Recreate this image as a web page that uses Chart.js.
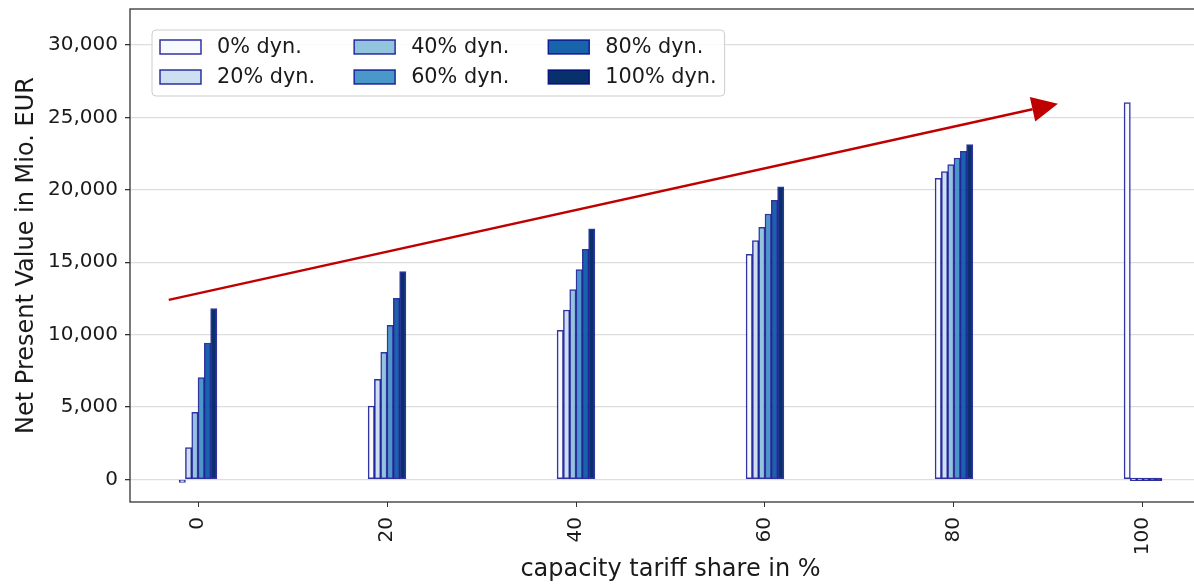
<!DOCTYPE html>
<html>
<head>
<meta charset="utf-8">
<script src="https://cdn.jsdelivr.net/npm/chart.js@4"></script>
<style>
  html, body { margin: 0; padding: 0; background: #fff; overflow: hidden; }
  #wrap { width: 1194px; height: 584px; overflow: hidden; }
</style>
</head>
<body>
<div id="wrap"><canvas id="npvChart" width="1212" height="584"></canvas></div>
<script>
// capacity tariff share (x groups) and the dynamic share of each bar
const shares = [0, 20, 40, 60, 80, 100];
const dynLabels = ['0% dyn.', '20% dyn.', '40% dyn.', '60% dyn.', '80% dyn.', '100% dyn.'];

// net present value in Mio. EUR, one array per dynamic share
const npvDyn0   = [-200, 5070, 10300, 15550, 20800, 26030];
const npvDyn20  = [2200, 6910, 11700, 16490, 21260, 0];
const npvDyn40  = [4630, 8780, 13110, 17410, 21750, 0];
const npvDyn60  = [7030, 10640, 14490, 18330, 22200, 0];
const npvDyn80  = [9420, 12510, 15890, 19280, 22660, 0];
const npvDyn100 = [11800, 14350, 17300, 20200, 23130, 0];

const yTicks = [0, 5000, 10000, 15000, 20000, 25000, 30000];

// red trend arrow, in data units
const arrowFrom = [-3.1, 12400];
const arrowTo = [91.0, 25950];

const fills = ['#f7fbff', '#cde0f1', '#93c4de', '#4a98c9', '#1764ab', '#08306b'];
const edge = 'rgba(0, 0, 139, 0.8)';
const series = [npvDyn0, npvDyn20, npvDyn40, npvDyn60, npvDyn80, npvDyn100];
const groupWidth = 4;

Chart.defaults.font.family = 'DejaVu Sans';
Chart.defaults.font.size = 20;
Chart.defaults.color = '#1a1a1a';

const datasets = series.map((vals, k) => {
  const off = (k - 2.5) * groupWidth / series.length;
  return {
    label: dynLabels[k],
    data: shares.map((s, i) => ({ x: s + off, y: vals[i] })),
    backgroundColor: fills[k],
    borderColor: edge,
    borderWidth: 1.5,
    borderSkipped: false,
    minBarLength: 2.5,
    categoryPercentage: 1,
    barPercentage: 1,
    grouped: false
  };
});

const framePlugin = {
  id: 'frame',
  afterDatasetsDraw(chart) {
    const { ctx, scales } = chart;
    // arrow
    const x1 = scales.x.getPixelForValue(arrowFrom[0]);
    const y1 = scales.y.getPixelForValue(arrowFrom[1]);
    const x2 = scales.x.getPixelForValue(arrowTo[0]);
    const y2 = scales.y.getPixelForValue(arrowTo[1]);
    const ang = Math.atan2(y2 - y1, x2 - x1);
    const headLen = 26, headHalf = 12.5;
    const bx = x2 - headLen * Math.cos(ang), by = y2 - headLen * Math.sin(ang);
    ctx.save();
    ctx.strokeStyle = '#c00000';
    ctx.fillStyle = '#c00000';
    ctx.lineWidth = 2.5;
    ctx.beginPath();
    ctx.moveTo(x1, y1);
    ctx.lineTo(bx, by);
    ctx.stroke();
    ctx.beginPath();
    ctx.moveTo(x2, y2);
    ctx.lineTo(bx + headHalf * Math.sin(ang), by - headHalf * Math.cos(ang));
    ctx.lineTo(bx - headHalf * Math.sin(ang), by + headHalf * Math.cos(ang));
    ctx.closePath();
    ctx.fill();
    ctx.restore();
  },
  afterDraw(chart) {
    const { ctx, chartArea: a } = chart;
    ctx.save();
    // axes box
    ctx.strokeStyle = '#333';
    ctx.lineWidth = 1.3;
    ctx.strokeRect(a.left, a.top, a.right - a.left, a.bottom - a.top);

    // legend, column-major like matplotlib ncol=3
    ctx.font = '20.8px "DejaVu Sans"';
    const ds = chart.data.datasets;
    const rows = 2, cols = Math.ceil(ds.length / rows);
    const pad = 8, handleW = 41, handleH = 14, textPad = 16, colGap = 39, rowH = 30;
    const colW = [];
    for (let c = 0; c < cols; c++) {
      let w = 0;
      for (let r = 0; r < rows; r++) {
        const d = ds[c * rows + r];
        if (d) w = Math.max(w, ctx.measureText(d.label).width);
      }
      colW.push(handleW + textPad + w);
    }
    const boxX = a.left + 22, boxY = a.top + 21;
    const boxW = pad * 2 + colW.reduce((s, w) => s + w, 0) + colGap * (cols - 1);
    const boxH = rows * rowH + 6;
    ctx.fillStyle = 'rgba(255,255,255,0.85)';
    ctx.strokeStyle = '#cccccc';
    ctx.lineWidth = 1;
    ctx.beginPath();
    ctx.roundRect(boxX, boxY, boxW, boxH, 4);
    ctx.fill();
    ctx.stroke();
    let cx = boxX + pad;
    for (let c = 0; c < cols; c++) {
      for (let r = 0; r < rows; r++) {
        const d = ds[c * rows + r];
        if (!d) continue;
        const cy = boxY + 17 + r * rowH;
        ctx.fillStyle = d.backgroundColor;
        ctx.fillRect(cx, cy - handleH / 2, handleW, handleH);
        ctx.strokeStyle = d.borderColor;
        ctx.lineWidth = 1.5;
        ctx.strokeRect(cx, cy - handleH / 2, handleW, handleH);
        ctx.fillStyle = '#1a1a1a';
        ctx.textBaseline = 'middle';
        ctx.textAlign = 'left';
        ctx.fillText(d.label, cx + handleW + textPad, cy + 1);
      }
      cx += colW[c] + colGap;
    }
    ctx.restore();
  }
};

new Chart(document.getElementById('npvChart'), {
  type: 'bar',
  data: { datasets },
  options: {
    responsive: false,
    animation: false,
    layout: { padding: { left: 0, top: 9, right: 1, bottom: 0 } },
    plugins: { legend: { display: false }, tooltip: { enabled: false } },
    scales: {
      x: {
        type: 'linear',
        offset: false,
        min: -7.2,
        max: 107.2,
        afterBuildTicks: s => { s.ticks = shares.map(v => ({ value: v })); },
        afterFit: s => { s.height = 82; s.paddingLeft = 0; s.paddingRight = 0; },
        grid: { offset: false, drawOnChartArea: false, drawTicks: true, tickLength: 5, color: '#333' },
        border: { display: false },
        ticks: { minRotation: 90, maxRotation: 90, padding: 10, font: { size: 20 } },
        title: { display: true, text: 'capacity tariff share in %', font: { size: 24 }, padding: { top: 0, bottom: 0 } }
      },
      y: {
        min: -1560,
        max: 32490,
        afterBuildTicks: s => { s.ticks = yTicks.map(v => ({ value: v })); },
        afterFit: s => { s.width = 130; s.paddingTop = 0; s.paddingBottom = 0; },
        grid: { color: '#dddddd', lineWidth: 1.3, tickColor: '#333', tickLength: 5 },
        border: { display: false },
        ticks: { padding: 7, font: { size: 20 }, callback: v => v.toLocaleString('en-US') },
        title: { display: true, text: 'Net Present Value in Mio. EUR', font: { size: 24 }, padding: { top: 12, bottom: 0 } }
      }
    }
  },
  plugins: [framePlugin]
});
</script>
</body>
</html>
